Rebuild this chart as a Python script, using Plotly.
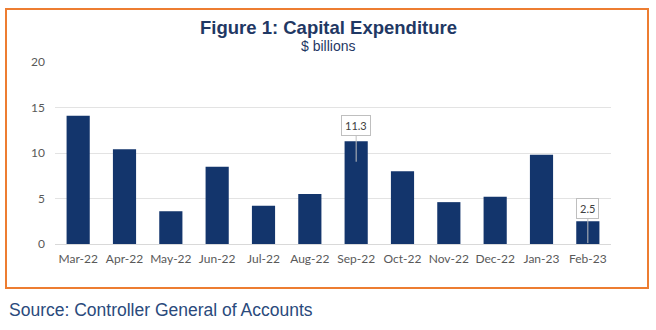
import plotly.graph_objects as go

months = ["Mar-22", "Apr-22", "May-22", "Jun-22", "Jul-22", "Aug-22",
          "Sep-22", "Oct-22", "Nov-22", "Dec-22", "Jan-23", "Feb-23"]
capex = [14.1, 10.4, 3.6, 8.5, 4.2, 5.5, 11.3, 8.0, 4.6, 5.2, 9.8, 2.5]
y_ticks = [0, 5, 10, 15, 20]
callouts = {"Sep-22": 11.3, "Feb-23": 2.5}

W, H = 656, 330
L, R, T, B = 55, 45, 62, 86
pw, ph = W - L - R, H - T - B

def px(x):
    return (x - L) / pw

def py(y):
    return (H - B - y) / ph

navy = "#1f3864"

fig = go.Figure()
fig.add_trace(go.Bar(
    x=months, y=capex, width=0.5,
    marker=dict(color="#13356c", line=dict(width=0)),
    hoverinfo="x+y",
))

annotations = [
    dict(text="<b>Figure 1: Capital Expenditure</b>", x=px(328), y=py(27),
         xref="paper", yref="paper", showarrow=False, yanchor="middle",
         font=dict(family="Liberation Sans, Arial", size=18.5, color=navy)),
    dict(text="$ billions", x=px(328), y=py(46), xref="paper", yref="paper",
         showarrow=False, yanchor="middle",
         font=dict(family="Liberation Sans, Arial", size=14, color=navy)),
    dict(text="Source: Controller General of Accounts", x=px(7), y=py(310),
         xref="paper", yref="paper", xanchor="left", yanchor="middle",
         showarrow=False,
         font=dict(family="Liberation Sans, Arial", size=17.5, color="#2a4a7c")),
]
for m, v in callouts.items():
    tip = v * 0.8 if v > 5 else 0.1
    annotations.append(dict(
        x=m, y=tip, xref="x", yref="y", text=str(v), showarrow=True,
        arrowhead=0, arrowwidth=1, arrowcolor="#bfbfbf", ax=0,
        ay=-36 if v > 5 else -35,
        bgcolor="white", bordercolor="#bfbfbf", borderwidth=1, borderpad=3,
        font=dict(family="Lato, Open Sans", size=11, color="#404040"),
    ))

fig.update_layout(
    width=W, height=H,
    margin=dict(l=L, r=R, t=T, b=B),
    paper_bgcolor="white", plot_bgcolor="white",
    showlegend=False,
    bargap=0.5,
    annotations=annotations,
    shapes=[dict(type="rect", xref="paper", yref="paper",
                 x0=px(6), x1=px(648), y0=py(288), y1=py(9),
                 line=dict(color="#ed7d31", width=2), fillcolor="rgba(0,0,0,0)",
                 layer="below")],
    xaxis=dict(showgrid=False, showline=False, ticks="", ticklabelstandoff=6,
               tickfont=dict(family="Lato, Open Sans", size=12, color="#595959")),
    yaxis=dict(range=[0, 20], tickvals=y_ticks, showgrid=True,
               gridcolor="#e3e3e3", gridwidth=1, zeroline=True,
               zerolinecolor="#d9d9d9", zerolinewidth=1, ticks="",
               ticklabelstandoff=9,
               tickfont=dict(family="Lato, Open Sans", size=12, color="#595959")),
)

fig.write_html("out.html")
